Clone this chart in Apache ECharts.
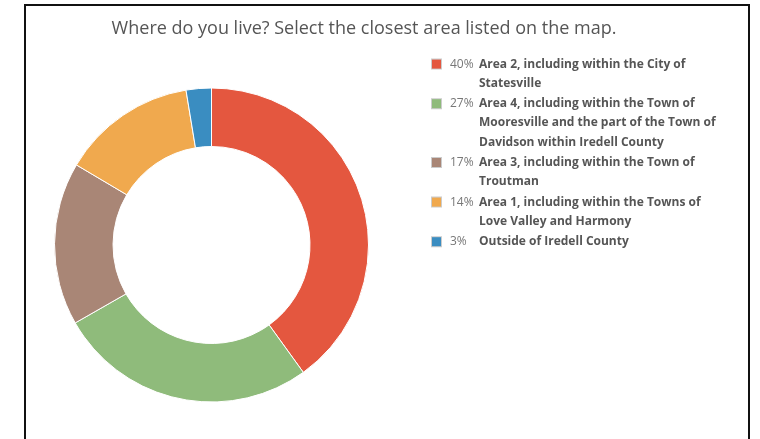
<!DOCTYPE html>
<html>
<head>
<meta charset="utf-8">
<script src="https://cdn.jsdelivr.net/npm/echarts@6/dist/echarts.min.js"></script>
<style>
html,body{margin:0;padding:0;background:#fff;width:760px;height:439px;overflow:hidden;}
#chart{position:absolute;left:0;top:0;width:760px;height:439px;}
#frame{position:absolute;left:24px;top:4px;width:722px;height:460px;border:2px solid #111;border-bottom:none;pointer-events:none;}
</style>
</head>
<body>
<div id="chart"></div>
<div id="frame"></div>
<script>
const titleText = 'Where do you live? Select the closest area listed on the map.';
const categories = [
  'Area 2, including within the City of Statesville',
  'Area 4, including within the Town of Mooresville and the part of the Town of Davidson within Iredell County',
  'Area 3, including within the Town of Troutman',
  'Area 1, including within the Towns of Love Valley and Harmony',
  'Outside of Iredell County'
];
// legend label line breaks as they wrap in the reference
const legendLines = [
  ['Area 2, including within the City of', 'Statesville'],
  ['Area 4, including within the Town of', 'Mooresville and the part of the Town of', 'Davidson within Iredell County'],
  ['Area 3, including within the Town of', 'Troutman'],
  ['Area 1, including within the Towns of', 'Love Valley and Harmony'],
  ['Outside of Iredell County']
];
const values = [40.1, 26.7, 16.8, 13.9, 2.6];
const percentLabels = ['40%', '27%', '17%', '14%', '3%'];
const colors = ['#E4573F', '#8FBB7B', '#A98676', '#F0A94E', '#3A8DC1'];

const chart = echarts.init(document.getElementById('chart'), null, {renderer: 'canvas'});
const FONT = '"Open Sans", "Noto Sans", sans-serif';
const LH = 19.2;

const rich = {
  sp: {width: 9, height: 11},
  p: {width: 29, fontSize: 12, color: '#777', fontFamily: FONT, lineHeight: LH},
  n: {fontSize: 12, fontWeight: 'bold', color: '#555', fontFamily: FONT, lineHeight: LH},
  ind: {width: 47, height: 11, lineHeight: LH}
};
colors.forEach((c, i) => {
  rich['b' + i] = {width: 9, height: 9, backgroundColor: c, borderColor: '#ccc', borderWidth: 1};
});

const data = categories.map((name, i) => ({name: name, value: values[i], itemStyle: {color: colors[i]}}));

chart.setOption({
  animation: false,
  title: {
    text: titleText,
    left: 359,
    textAlign: 'center',
    top: 15,
    textStyle: {fontFamily: FONT, fontSize: 18, fontWeight: 'normal', color: '#555'}
  },
  legend: {
    orient: 'vertical',
    left: 421,
    top: 49.5,
    itemWidth: 0,
    itemHeight: 0,
    icon: 'rect',
    itemGap: 1.2,
    selectedMode: false,
    data: categories,
    formatter: function (name) {
      const i = categories.indexOf(name);
      const lines = legendLines[i];
      let s = '{b' + i + '|}{sp|}{p|' + percentLabels[i] + '}{n|' + lines[0] + '}';
      for (let k = 1; k < lines.length; k++) {
        s += '\n{ind|}{n|' + lines[k] + '}';
      }
      return s;
    },
    textStyle: {rich: rich, fontFamily: FONT, fontSize: 12, lineHeight: LH}
  },
  series: [{
    type: 'pie',
    center: [211.5, 245],
    radius: [98.5, 157],
    startAngle: 90,
    clockwise: true,
    label: {show: false},
    labelLine: {show: false},
    itemStyle: {borderColor: '#fff', borderWidth: 1},
    emphasis: {disabled: true},
    data: data
  }]
});
</script>
</body>
</html>
